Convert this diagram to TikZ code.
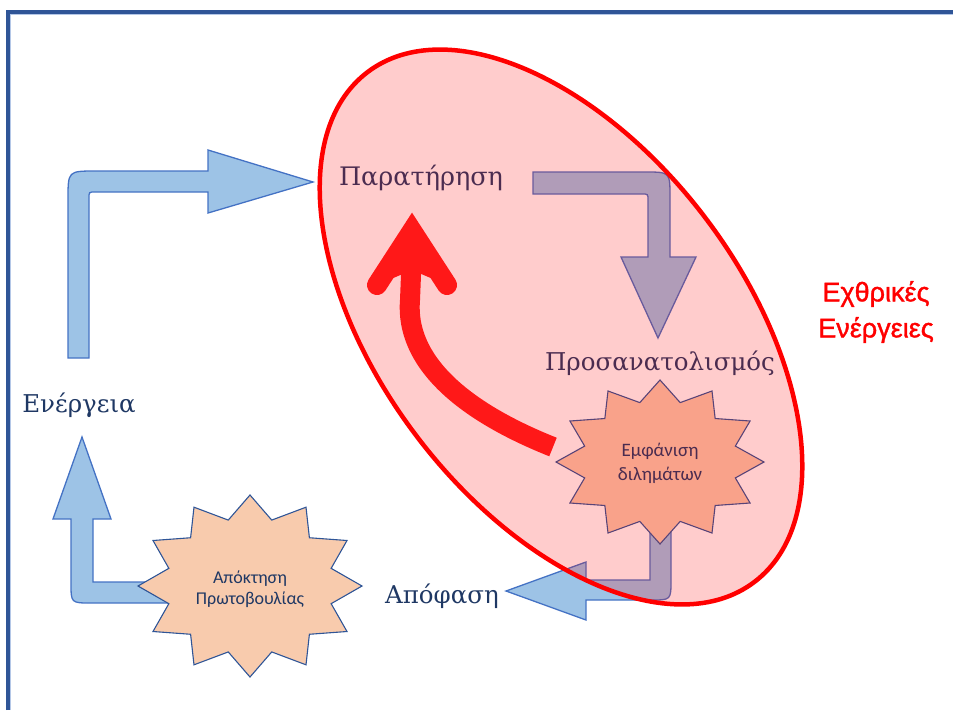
\documentclass[tikz,border=0pt]{standalone}
\usepackage{fontspec}
\setmainfont{DejaVu Serif}
\newfontfamily\carl{Carlito}
\newfontfamily\lsans[FakeBold=1.3]{Liberation Sans}
\definecolor{bfill}{HTML}{9DC3E6}
\definecolor{bline}{HTML}{4472C4}
\definecolor{sfill}{HTML}{F8CBAD}
\definecolor{sline}{HTML}{2F5597}
\definecolor{navy}{HTML}{1F3864}
\definecolor{bordblue}{HTML}{2F5597}
\definecolor{bordlight}{HTML}{B4C7E7}
\definecolor{arrred}{RGB}{255,24,24}
\begin{document}
\begin{tikzpicture}[x=1pt,y=-1pt,
  blockarrow/.style={fill=bfill,draw=bline,line width=1.3pt,line join=miter},
  burst/.style={fill=sfill,draw=sline,line width=1.1pt,line join=miter},
  biglabel/.style={text=navy,font=\fontsize{24.5}{30}\selectfont,inner sep=0pt,anchor=base},
  startext/.style={text=navy,font=\carl\fontsize{19}{24}\selectfont,align=center,inner sep=0pt}]
\path[use as bounding box] (0,0) rectangle (953,710);
% border
\draw[bordlight,line width=1.5pt] (10.5,710) -- (10.5,14.5) -- (953,14.5);
\draw[bordblue,line width=4pt] (7.5,710) -- (7.5,12) -- (953,12);
% block arrows
\draw[blockarrow] (68,358) -- (68,199) .. controls (68,171) .. (96,171) -- (208,171) -- (208,150) -- (313,182) -- (208,213) -- (208,192) -- (95,192) .. controls (89,192) .. (89,198) -- (89,358) -- cycle;
\draw[blockarrow] (533,172) -- (645,172) .. controls (670,172) .. (670,197) -- (670,257) -- (696,257) -- (658,338) -- (621,257) -- (648,257) -- (648,200) .. controls (648,194) .. (642,194) -- (533,194) -- cycle;
\draw[blockarrow] (82,437) -- (111,519) -- (93,519) -- (93,582) -- (200,582) -- (200,603) -- (91,603) .. controls (71,603) .. (71,583) -- (71,519) -- (53,519) -- cycle;
\draw[blockarrow] (650,500) -- (671,500) -- (671,580) .. controls (671,600) .. (651,600) -- (586,600) -- (586,620) -- (506,591) -- (586,562) -- (586,580) -- (650,580) -- cycle;
% bursts
\draw[burst] plot[samples at={0,15,...,345},variable=\t] ({660+104*ifthenelse(mod(\t,30)==0,1,0.75)*cos(\t)},{462+82*ifthenelse(mod(\t,30)==0,1,0.75)*sin(\t)}) -- cycle;
\draw[burst] plot[samples at={0,15,...,345},variable=\t] ({250+112*ifthenelse(mod(\t,30)==0,1,0.75)*cos(\t)},{586+91*ifthenelse(mod(\t,30)==0,1,0.75)*sin(\t)}) -- cycle;
\node[startext] (dil) at (660,463) {Εμφάνιση\\διλημάτων};
\node[startext,font=\carl\fontsize{18}{21}\selectfont] (prot) at (250,589) {Απόκτηση\\Πρωτοβουλίας};
% labels
\node[biglabel,font=\fontsize{25.5}{30}\selectfont] (obs) at (421,185) {Παρατήρηση};
\node[biglabel] (ori) at (660,370) {Προσανατολισμός};
\node[biglabel] (act) at (79,412) {Ενέργεια};
\node[biglabel] (dec) at (442,603) {Απόφαση};
% ellipse overlay
\fill[red,fill opacity=0.2,shift={(561,327)},rotate=-52.8] (0,0) ellipse [x radius=320pt,y radius=181pt];
\draw[red,line width=4.5pt,shift={(561,327)},rotate=-52.8] (0,0) ellipse [x radius=320pt,y radius=181pt];
% red arrow
\coordinate (rtail) at (553,447);
\coordinate (rtip) at (412,231);
\draw[arrred,line width=20pt] (rtail) .. controls (460,410) and (405,360) .. (410,300) -- (412,250);
\draw[arrred,line width=20pt,line cap=round,miter limit=10] (377,285) -- (rtip) -- (447,285);
\fill[arrred] (377,285) -- (rtip) -- (447,285) -- (412,270) -- cycle;
% enemy
\node[text=red,font=\lsans\fontsize{27}{36}\selectfont,align=center,inner sep=0pt] (enemy) at (876,312) {Εχθρικές\\Ενέργειες};
\end{tikzpicture}
\end{document}
